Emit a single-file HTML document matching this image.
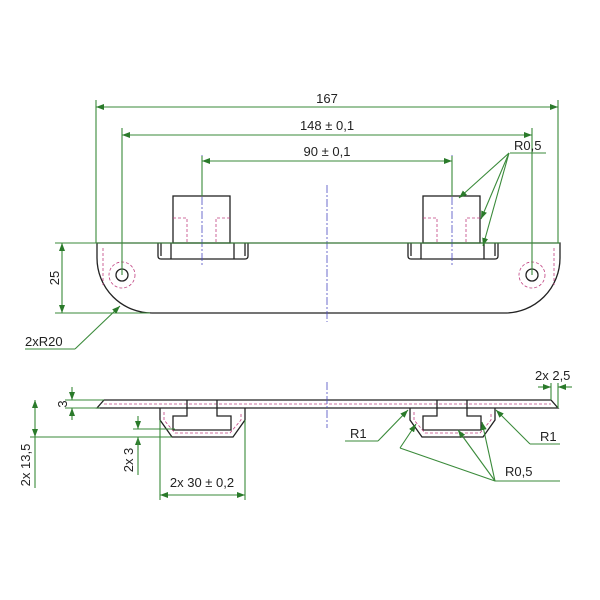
<!DOCTYPE html>
<html><head><meta charset="utf-8"><style>
html,body{margin:0;padding:0;background:#fff}
svg{display:block}
text{font-family:"Liberation Sans",sans-serif;font-size:13px;fill:#222}
.g{stroke:#3a8a3a;stroke-width:1.1;fill:none}
.k{stroke:#222;stroke-width:1.3;fill:none}
.p{stroke:#c04080;stroke-width:0.8;fill:none;stroke-dasharray:3,2}
.b{stroke:#4a4ac0;stroke-width:0.8;fill:none;stroke-dasharray:8,2,2,2}
</style></head><body>
<svg width="600" height="600" viewBox="0 0 600 600">
<defs>
<marker id="a" markerWidth="8" markerHeight="6" refX="8" refY="3" orient="auto-start-reverse" markerUnits="userSpaceOnUse"><path d="M0,0 L8,3 L0,6 z" fill="#2a7a2a"/></marker>
</defs>
<path class="k" d="M97,243 L97,258 A55,55 0 0 0 152,313 L505,313 A55,55 0 0 0 560,258 L560,243 Z"/>
<line class="p" x1="103" y1="248" x2="103" y2="285"/>
<line class="p" x1="554" y1="248" x2="554" y2="285"/>
<circle class="k" cx="122" cy="275" r="6"/><circle class="p" cx="122" cy="275" r="13"/>
<circle class="k" cx="532" cy="275" r="6"/><circle class="p" cx="532" cy="275" r="13"/>
<g id="tab">
<rect class="k" x="173" y="196" width="57" height="47"/>
<path class="k" d="M158,243 L158,256 Q158,259 161,259 L245,259 Q248,259 248,256 L248,243"/>
<line class="k" x1="161" y1="243" x2="161" y2="256"/>
<line class="k" x1="171" y1="243" x2="171" y2="259"/>
<line class="k" x1="234" y1="243" x2="234" y2="259"/>
<line class="k" x1="245" y1="243" x2="245" y2="256"/>
<path class="p" d="M173,218 L187,218 L187,243 M230,218 L216,218 L216,243"/>
<line class="b" x1="202" y1="155" x2="202" y2="265"/>
</g>
<use href="#tab" x="250"/>
<line class="b" x1="327" y1="185" x2="327" y2="322"/>
<line class="g" x1="96" y1="100" x2="96" y2="243"/>
<line class="g" x1="558" y1="100" x2="558" y2="243"/>
<line class="g" x1="96" y1="107" x2="558" y2="107" marker-start="url(#a)" marker-end="url(#a)"/>
<text x="327" y="103" text-anchor="middle">167</text>
<line class="g" x1="122" y1="128" x2="122" y2="275"/>
<line class="g" x1="532" y1="128" x2="532" y2="275"/>
<line class="g" x1="122" y1="135" x2="532" y2="135" marker-start="url(#a)" marker-end="url(#a)"/>
<text x="327" y="130" text-anchor="middle">148 ± 0,1</text>
<line class="g" x1="202" y1="156" x2="202" y2="196"/>
<line class="g" x1="452" y1="156" x2="452" y2="196"/>
<line class="g" x1="202" y1="161" x2="452" y2="161" marker-start="url(#a)" marker-end="url(#a)"/>
<text x="327" y="156" text-anchor="middle">90 ± 0,1</text>
<text x="514" y="150">R0,5</text>
<line class="g" x1="510" y1="153" x2="546" y2="153"/>
<line class="g" x1="509" y1="153" x2="459" y2="198" marker-end="url(#a)"/>
<line class="g" x1="509" y1="153" x2="481" y2="219" marker-end="url(#a)"/>
<line class="g" x1="509" y1="153" x2="483" y2="246" marker-end="url(#a)"/>
<line class="g" x1="55" y1="243" x2="97" y2="243"/>
<line class="g" x1="97" y1="243" x2="560" y2="243"/>
<line class="g" x1="55" y1="313" x2="150" y2="313"/>
<line class="g" x1="62" y1="243" x2="62" y2="313" marker-start="url(#a)" marker-end="url(#a)"/>
<text transform="translate(59,278) rotate(-90)" text-anchor="middle">25</text>
<text x="25" y="346">2xR20</text>
<line class="g" x1="25" y1="349" x2="75" y2="349"/>
<line class="g" x1="75" y1="349" x2="120" y2="306" marker-end="url(#a)"/>
<path class="k" d="M104,400 L551,400 L558,408 L97,408 Z"/>
<line class="p" x1="104" y1="404" x2="551" y2="404"/>
<g id="st">
<path class="k" d="M160,408 L160,420 L172,437 L233,437 L245,420 L245,408"/>
<path class="k" d="M187,400 L187,416 L173,416 L173,430 L231,430 L231,416 L217,416 L217,400"/>
<path class="p" d="M164,412 L164,420 L175,433 L230,433 L241,420 L241,412"/>
</g>
<use href="#st" x="250"/>
<line class="b" x1="327" y1="382" x2="327" y2="428"/>
<line class="g" x1="65" y1="400" x2="104" y2="400"/>
<line class="g" x1="65" y1="408" x2="100" y2="408"/>
<line class="g" x1="72" y1="387" x2="72" y2="400" marker-end="url(#a)"/>
<line class="g" x1="72" y1="420" x2="72" y2="408" marker-end="url(#a)"/>
<text transform="translate(67,404) rotate(-90)" text-anchor="middle">3</text>
<line class="g" x1="30" y1="437" x2="172" y2="437"/>
<line class="g" x1="35" y1="400" x2="35" y2="437" marker-start="url(#a)" marker-end="url(#a)"/>
<line class="g" x1="35" y1="437" x2="35" y2="488"/>
<text transform="translate(30,465) rotate(-90)" text-anchor="middle">2x 13,5</text>
<line class="g" x1="133" y1="429" x2="175" y2="429"/>
<line class="g" x1="138" y1="416" x2="138" y2="429" marker-end="url(#a)"/>
<line class="g" x1="138" y1="450" x2="138" y2="437" marker-end="url(#a)"/>
<line class="g" x1="138" y1="437" x2="138" y2="475"/>
<text transform="translate(133,460) rotate(-90)" text-anchor="middle">2x 3</text>
<line class="g" x1="160" y1="420" x2="160" y2="500"/>
<line class="g" x1="245" y1="420" x2="245" y2="500"/>
<line class="g" x1="160" y1="495" x2="245" y2="495" marker-start="url(#a)" marker-end="url(#a)"/>
<text x="202" y="487" text-anchor="middle">2x 30 ± 0,2</text>
<text x="535" y="380">2x 2,5</text>
<line class="g" x1="551" y1="383" x2="551" y2="400"/>
<line class="g" x1="558" y1="383" x2="558" y2="408"/>
<line class="g" x1="538" y1="387" x2="551" y2="387" marker-end="url(#a)"/>
<line class="g" x1="572" y1="387" x2="558" y2="387" marker-end="url(#a)"/>
<text x="350" y="438">R1</text>
<line class="g" x1="345" y1="441" x2="378" y2="441"/>
<line class="g" x1="378" y1="441" x2="408" y2="410" marker-end="url(#a)"/>
<text x="540" y="441">R1</text>
<line class="g" x1="530" y1="444" x2="560" y2="444"/>
<line class="g" x1="530" y1="444" x2="496" y2="410" marker-end="url(#a)"/>
<text x="505" y="476">R0,5</text>
<line class="g" x1="495" y1="481" x2="560" y2="481"/>
<line class="g" x1="495" y1="481" x2="400" y2="448"/>
<line class="g" x1="400" y1="448" x2="416" y2="424" marker-end="url(#a)"/>
<line class="g" x1="495" y1="481" x2="458" y2="430" marker-end="url(#a)"/>
<line class="g" x1="495" y1="481" x2="482" y2="422" marker-end="url(#a)"/>
</svg>
</body></html>
